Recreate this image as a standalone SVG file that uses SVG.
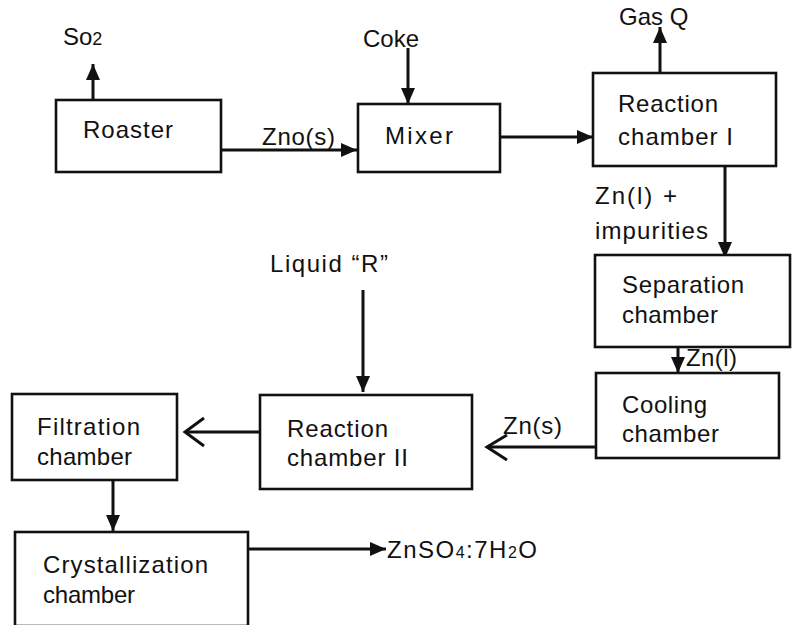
<svg xmlns="http://www.w3.org/2000/svg" width="793" height="625" viewBox="0 0 793 625">
<style>
.box{fill:#fff;stroke:#111;stroke-width:2.6}
.ln{fill:none;stroke:#111;stroke-width:3}
.t{font-family:"Liberation Sans",Arial,sans-serif;font-size:24px;fill:#111}
.open{fill:none;stroke:#111;stroke-width:3;stroke-linejoin:miter}
</style>
<defs>
<marker id="ah" markerUnits="userSpaceOnUse" markerWidth="18" markerHeight="16" refX="16" refY="7" orient="auto">
<path d="M0,0 L16,7 L0,14 z" fill="#111"/>
</marker>
</defs>
<rect width="793" height="625" fill="#fff"/>
<g id="connectors">
<line class="ln" x1="93" y1="100" x2="93" y2="64" marker-end="url(#ah)"/>
<line class="ln" x1="221" y1="150" x2="357" y2="150" marker-end="url(#ah)"/>
<line class="ln" x1="408" y1="48" x2="408" y2="104" marker-end="url(#ah)"/>
<line class="ln" x1="500" y1="137" x2="593" y2="137" marker-end="url(#ah)"/>
<line class="ln" x1="660" y1="73" x2="660" y2="27" marker-end="url(#ah)"/>
<line class="ln" x1="725" y1="166" x2="725" y2="258" marker-end="url(#ah)"/>
<line class="ln" x1="678" y1="347" x2="678" y2="373" marker-end="url(#ah)"/>
<line class="ln" x1="596" y1="447" x2="487" y2="447"/>
<polyline class="open" points="507,435 487,447 507,460"/>
<line class="ln" x1="363" y1="290" x2="363" y2="392" marker-end="url(#ah)"/>
<line class="ln" x1="260" y1="432" x2="185" y2="432"/>
<polyline class="open" points="204,418 185,432 204,446"/>
<line class="ln" x1="113" y1="480" x2="113" y2="531" marker-end="url(#ah)"/>
<line class="ln" x1="248" y1="549" x2="386" y2="549" marker-end="url(#ah)"/>
</g>
<g id="roaster">
<rect class="box" x="56" y="100" width="165" height="72"/>
<text class="t" x="83" y="138" textLength="90">Roaster</text>
</g>
<g id="mixer">
<rect class="box" x="358" y="104" width="142" height="68"/>
<text class="t" x="385" y="144" font-size="26" textLength="68">Mixer</text>
</g>
<g id="reaction1">
<rect class="box" x="593" y="73" width="183" height="93"/>
<text class="t" x="618" y="112" textLength="100">Reaction</text>
<text class="t" x="618" y="145" textLength="115">chamber I</text>
</g>
<g id="separation">
<rect class="box" x="595" y="255" width="195" height="92"/>
<text class="t" x="622" y="293" textLength="122">Separation</text>
<text class="t" x="622" y="323" textLength="96">chamber</text>
</g>
<g id="cooling">
<rect class="box" x="596" y="373" width="183" height="85"/>
<text class="t" x="622" y="413" textLength="85">Cooling</text>
<text class="t" x="622" y="442" textLength="97">chamber</text>
</g>
<g id="reaction2">
<rect class="box" x="260" y="395" width="212" height="94"/>
<text class="t" x="287" y="437" textLength="101">Reaction</text>
<text class="t" x="287" y="466" textLength="121">chamber II</text>
</g>
<g id="filtration">
<rect class="box" x="12" y="394" width="165" height="86"/>
<text class="t" x="37" y="435" textLength="103">Filtration</text>
<text class="t" x="37" y="465" textLength="95">chamber</text>
</g>
<g id="crystallization">
<rect class="box" x="15" y="532" width="233" height="94"/>
<text class="t" x="43" y="573" textLength="165">Crystallization</text>
<text class="t" x="43" y="603" textLength="92">chamber</text>
</g>
<g id="labels">
<text class="t" x="63" y="45" font-size="28">So<tspan font-size="18">2</tspan></text>
<text class="t" x="363" y="47" font-size="28">Coke</text>
<text class="t" x="619" y="25" font-size="28">Gas Q</text>
<text class="t" x="262" y="145" textLength="73">Zno(s)</text>
<text class="t" x="595" y="204" textLength="82">Zn(l)  +</text>
<text class="t" x="595" y="239" textLength="113">impurities</text>
<text class="t" x="686" y="366" textLength="51">Zn(l)</text>
<text class="t" x="503" y="434" textLength="59">Zn(s)</text>
<text class="t" x="270" y="272" textLength="118">Liquid “R”</text>
<text class="t" x="387" y="558" font-size="26" textLength="150">ZnSO<tspan font-size="16">4</tspan>:7H<tspan font-size="16">2</tspan>O</text>
</g>
</svg>
